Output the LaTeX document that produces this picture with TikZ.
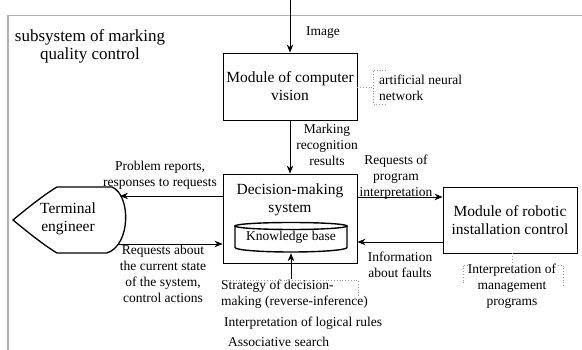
\documentclass[tikz,border=0pt]{standalone}
\usepackage{fontspec}
\setmainfont{LiberationSerif}[Extension=.ttf,UprightFont=*-Regular,BoldFont=*-Bold]
\usetikzlibrary{arrows.meta,calc}
\begin{document}
\begin{tikzpicture}[x=1pt,y=-1pt,
 box/.style={draw,line width=0.9pt,minimum width=134pt,inner sep=0pt,font=\fontsize{15.5}{18}\selectfont,align=center},
 lbl/.style={font=\fontsize{13.5}{16}\selectfont,align=center,inner sep=0pt},
 arr/.style={-{Stealth[length=8pt,width=6.5pt]},line width=0.9pt},
 dotl/.style={dotted,line width=0.8pt,gray!80},
 frame/.style={gray!60,line width=1.2pt}]
\useasboundingbox (0,0) rectangle (582,350);
% outer frame
\coordinate (fbl) at (8,351);
\coordinate (ftl) at (8,15.5);
\coordinate (ftr) at (583,15.5);
\draw[frame] (fbl) -- (ftl) -- (ftr);
\node[inner sep=0pt,align=center,font=\fontsize{17}{18}\selectfont] (title) at (90,46) {subsystem of marking\\quality control};

% boxes
\node[box,minimum height=67pt] (cv) at (290,86.5) {Module of computer\\vision};
\node[box,minimum height=89pt] (dm) at (290,218.5) {};
\node[inner sep=0pt,align=center,font=\fontsize{15.5}{18}\selectfont] (dmtext) at (290,200) {Decision-making\\system};
\node[box,minimum height=66pt] (rc) at (510,220) {Module of robotic\\installation control};

% knowledge base cylinder
\node[minimum width=112pt,minimum height=31pt,inner sep=0pt,font=\fontsize{13.5}{16}\selectfont] (kb) at (291,237.5) {\raisebox{-2pt}{Knowledge base}};
\draw[line width=1.4pt] (291,226) ellipse [x radius=56pt,y radius=3.5pt];
\draw[line width=1.4pt] (235,226) -- (235,247.5) arc[start angle=180,end angle=360,x radius=56pt,y radius=4.5pt] -- (347,226);

% terminal engineer
\draw[line width=1.3pt] (57,187) -- (112,187) .. controls (131,195) and (131,245) .. (107,253) -- (57,253)
  .. controls (42,244) and (24,229) .. (13,220) .. controls (24,211) and (42,196) .. (57,187) -- cycle;
\node[inner sep=0pt,align=center,font=\fontsize{15.5}{18}\selectfont] (term) at (68,219) {Terminal\\engineer};
\coordinate (t1) at (120,196);
\coordinate (t2) at (119,244);

% arrows
\coordinate (imgtop) at (290,0);
\draw[arr] (imgtop) -- (cv.north);
\draw[arr] (cv.south) -- (dm.north);
\draw[arr] (dm.west |- t1) -- (t1);
\draw[arr] (t2) -- (dm.west |- t2);
\coordinate (y1) at (0,197);
\coordinate (y2) at (0,242);
\draw[arr] (dm.east |- y1) -- (rc.west |- y1);
\draw[arr] (rc.west |- y2) -- (dm.east |- y2);
\coordinate (kbin) at (291,279);
\draw[arr] (kbin) -- (kb.south);

% labels
\node[lbl] (limg) at (323,33) {Image};
\node[lbl] (lmark) at (327,145) {Marking\\recognition\\results};
\node[lbl] (lprob) at (160,175) {Problem reports,\\responses to requests};
\node[lbl] (lreq) at (163,274) {Requests about\\the current state\\of the system,\\control actions};
\node[lbl] (lprog) at (396,177) {Requests of\\program\\interpretation};
\node[lbl] (linfo) at (400,265) {Information\\about faults};
\node[lbl] (lmgmt) at (512,286) {Interpretation of\\management\\programs};
\node[lbl,anchor=west,align=left] (lann) at (379,88) {artificial neural\\network};
\node[lbl,anchor=west,align=left] (lstrat) at (221,294) {Strategy of decision-\\making (reverse-inference)};
\node[lbl,anchor=west] (llog) at (224,323) {Interpretation of logical rules};
\node[lbl,anchor=west] (lass) at (228,342) {Associative search};

% dotted annotations
\coordinate (ann) at (373,87);
\draw[dotl] (cv.east |- ann) -- (ann);
\draw[dotl] (386,70) -- (373,70) -- (373,104) -- (386,104);
\coordinate (st1) at (222,280);
\coordinate (st2) at (358,280);
\coordinate (st3) at (358,297);
\draw[dotl] (st1) -- (st2) -- (st3);
\coordinate (mg) at (512,268);
\draw[dotl] (rc.south -| mg) -- (mg);
\draw[dotl] (468,265) -- (463,265) -- (463,285);
\draw[dotl] (558,265) -- (563,265) -- (563,286);
\end{tikzpicture}
\end{document}
